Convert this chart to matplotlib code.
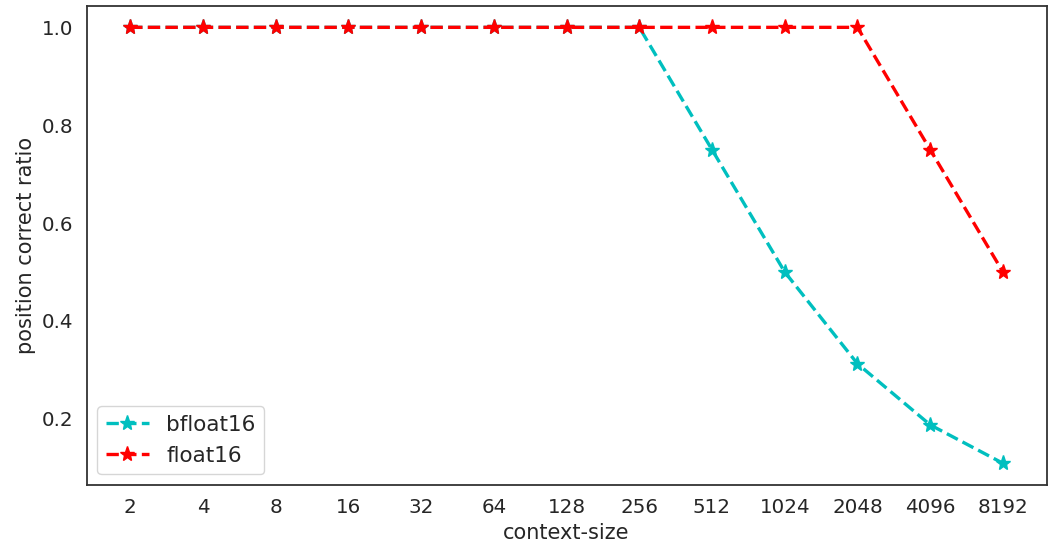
import matplotlib
matplotlib.use("Agg")
import matplotlib.pyplot as plt
import seaborn as sns

# 데이터
context_sizes = ["2", "4", "8", "16", "32", "64", "128", "256", "512", "1024", "2048", "4096", "8192"]
bfloat16 = [1.0, 1.0, 1.0, 1.0, 1.0, 1.0, 1.0, 1.0, 0.75, 0.5, 0.3125, 0.1875, 0.109]
float16 = [1.0, 1.0, 1.0, 1.0, 1.0, 1.0, 1.0, 1.0, 1.0, 1.0, 1.0, 0.75, 0.5]

sns.set_theme(style="white", font_scale=1.3)
plt.rcParams['font.family'] = ['DejaVu Sans']

fig, ax = plt.subplots(figsize=(10.55, 5.55), dpi=100)
x = list(range(len(context_sizes)))
ax.plot(x, bfloat16, linestyle="--", marker="*", color="#00bfbf", linewidth=2.4, markersize=11, label="bfloat16")
ax.plot(x, float16, linestyle="--", marker="*", color="#ff0000", linewidth=2.4, markersize=11, label="float16")

ax.set_xticks(x)
ax.set_xticklabels(context_sizes)
ax.set_yticks([0.2, 0.4, 0.6, 0.8, 1.0])
ax.set_xlabel("context-size", fontsize=15)
ax.set_ylabel("position correct ratio", fontsize=15)
for s in ax.spines.values():
    s.set_color("#333333")
    s.set_linewidth(1.3)
ax.legend(loc="lower left", fontsize=15.5)

plt.subplots_adjust(left=0.082, right=0.992, top=0.99, bottom=0.126)
plt.savefig("out.png")
